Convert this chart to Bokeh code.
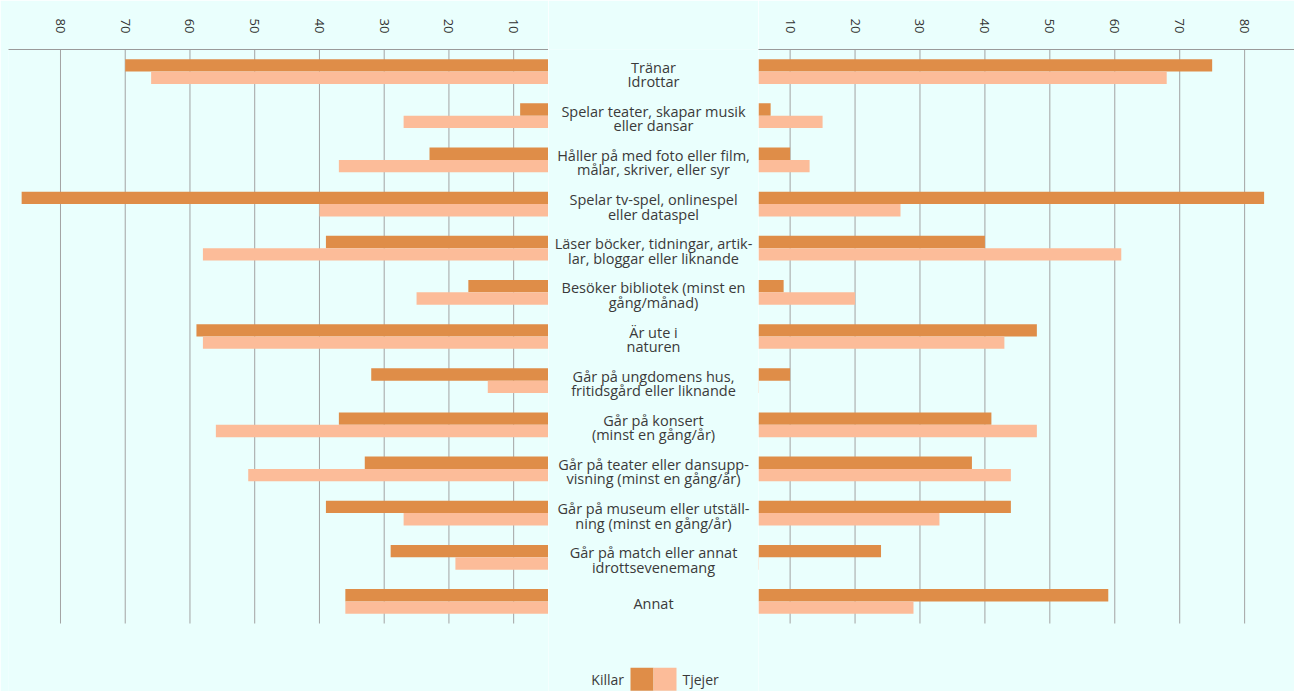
import math
from bokeh.plotting import figure
from bokeh.layouts import row
from bokeh.models import Range1d, FixedTicker, ColumnDataSource
from bokeh.transform import dodge
from bokeh.core.properties import value
from bokeh.embed import file_html
from bokeh.resources import INLINE

# ---------------- data ----------------
categories = [
    "Tränar\nIdrottar",
    "Spelar teater, skapar musik\neller dansar",
    "Håller på med foto eller film,\nmålar, skriver, eller syr",
    "Spelar tv-spel, onlinespel\neller dataspel",
    "Läser böcker, tidningar, artik-\nlar, bloggar eller liknande",
    "Besöker bibliotek (minst en\ngång/månad)",
    "Är ute i\nnaturen",
    "Går på ungdomens hus,\nfritidsgård eller liknande",
    "Går på konsert\n(minst en gång/år)",
    "Går på teater eller dansupp-\nvisning (minst en gång/år)",
    "Går på museum eller utställ-\nning (minst en gång/år)",
    "Går på match eller annat\nidrottsevenemang",
    "Annat",
]
left_killar = [70, 9, 23, 86, 39, 17, 59, 32, 37, 33, 39, 29, 36]
left_tjejer = [66, 27, 37, 40, 58, 25, 58, 14, 56, 51, 27, 19, 36]
right_killar = [75, 7, 10, 83, 40, 9, 48, 10, 41, 38, 44, 24, 59]
right_tjejer = [68, 15, 13, 27, 61, 20, 43, 0, 48, 44, 33, 0, 29]
tick_values = [10, 20, 30, 40, 50, 60, 70, 80]
legend_labels = ["Killar", "Tjejer"]

# ---------------- style ----------------
BG = "#EAFFFD"
DARK = "#DF8D48"
LIGHT = "#FCBC99"
GRID = "#A3A3A3"
TEXT = "#3A3A3A"
FONT = "Open Sans"
W, H = 1294, 691
TOP = 49
ROW_PX = 574 / 13.0

n = len(categories)
y_end = -0.5 + (H - TOP) / ROW_PX   # frame spans to the bottom of the page

lines1, lines2, y1, y2 = [], [], [], []
for i, c in enumerate(categories):
    parts = c.split("\n")
    if len(parts) == 2:
        lines1.append(parts[0]); lines2.append(parts[1])
        y1.append(i - 0.10); y2.append(i + 0.226)
    else:
        lines1.append(parts[0]); lines2.append("")
        y1.append(i + 0.04); y2.append(i + 0.04)

src = ColumnDataSource(dict(
    idx=list(range(n)),
    l1=lines1, l2=lines2, y1=y1, y2=y2,
    lk=left_killar, lt=left_tjejer,
    rk=right_killar, rt=right_tjejer,
))
grid_src = ColumnDataSource(dict(t=tick_values))

LEFT_BASE, LEFT_FAR = 4.62, 88.03
RIGHT_BASE, RIGHT_FAR = 5.13, 87.68


def panel(width, x_range, kcol, tcol, base, orient, border_left):
    p = figure(width=width, height=H, x_range=x_range,
               y_range=Range1d(y_end, -0.5),
               output_backend="svg", toolbar_location=None,
               x_axis_location="above", y_axis_location=None,
               min_border_top=TOP, min_border_bottom=0,
               min_border_left=border_left, min_border_right=0,
               background_fill_color=BG, border_fill_color=BG,
               outline_line_color=None)
    ax = p.xaxis[0]
    ax.ticker = FixedTicker(ticks=tick_values)
    ax.major_tick_in = 0
    ax.major_tick_out = 0
    ax.minor_tick_in = 0
    ax.minor_tick_out = 0
    ax.axis_line_color = "#9A9A9A"
    ax.major_label_orientation = orient
    ax.major_label_standoff = 16
    ax.major_label_text_font = FONT
    ax.major_label_text_font_size = "13px"
    ax.major_label_text_color = "#333333"
    p.ygrid.visible = False
    p.xgrid.visible = False
    # vertical grid lines limited to the bar area
    p.segment(x0="t", x1="t", y0=-0.5, y1=n - 0.5, source=grid_src,
              line_color=GRID, line_width=1)
    p.hbar(y=dodge("idx", -0.14, range=p.y_range), left=base, right=kcol,
           height=0.28, source=src, fill_color=DARK, line_color=None)
    p.hbar(y=dodge("idx", 0.14, range=p.y_range), left=base, right=tcol,
           height=0.28, source=src, fill_color=LIGHT, line_color=None)
    return p


left = panel(548, Range1d(LEFT_FAR, LEFT_BASE), "lk", "lt", LEFT_BASE, -math.pi / 2, 8)
right = panel(536, Range1d(RIGHT_BASE, RIGHT_FAR), "rk", "rt", RIGHT_BASE, -math.pi / 2, 0)

# middle: category labels + legend
mid = figure(width=210, height=H, x_range=Range1d(0, 210),
             y_range=Range1d(y_end, -0.5),
             output_backend="svg", toolbar_location=None,
             x_axis_location=None, y_axis_location=None,
             min_border_top=TOP, min_border_bottom=0,
             min_border_left=0, min_border_right=0,
             background_fill_color=BG, border_fill_color=BG,
             outline_line_color=None)
mid.xgrid.visible = False
mid.ygrid.visible = False
for col, ycol in (("l1", "y1"), ("l2", "y2")):
    mid.text(x=105, y=ycol, text=col, source=src,
             text_align="center", text_baseline="middle",
             text_font=value(FONT), text_font_size="14.5px",
             text_color=TEXT)

ly = 13.76
mid.rect(x=[93.5], y=[ly], width=23, height=23, width_units="screen",
         height_units="screen", fill_color=DARK, line_color=None)
mid.rect(x=[116.5], y=[ly], width=23, height=23, width_units="screen",
         height_units="screen", fill_color=LIGHT, line_color=None)
mid.text(x=[75.5], y=[ly], text=[legend_labels[0]], text_align="right",
         text_baseline="middle", text_font=value(FONT), text_font_size="14px",
         text_color=TEXT)
mid.text(x=[134], y=[ly], text=[legend_labels[1]], text_align="left",
         text_baseline="middle", text_font=value(FONT), text_font_size="14px",
         text_color=TEXT)

p = row(left, mid, right)
open("out.html", "w").write(file_html(p, INLINE))
